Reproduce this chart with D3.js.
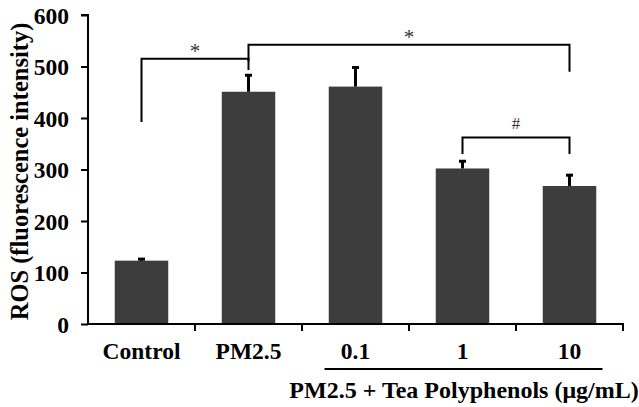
<!DOCTYPE html>
<html>
<head>
<meta charset="utf-8">
<script src="https://cdn.jsdelivr.net/npm/d3@7"></script>
<style>
  html, body { margin: 0; padding: 0; background: #fff; }
  svg { display: block; }
  svg text { font-family: "Liberation Serif", Tinos, "Times New Roman", Times, "DejaVu Serif", serif !important; }
</style>
</head>
<body>
<svg id="chart" width="639" height="407"></svg>
<script>
// ---- data ----
const categories = ["Control", "PM2.5", "0.1", "1", "10"];
const values = [123, 451, 461, 302, 268];
const errors = [3, 32, 37, 14, 21];
const yTicks = [0, 100, 200, 300, 400, 500, 600];
const yTitle = "ROS (fluorescence intensity)";
const groupLabel = "PM2.5 + Tea Polyphenols (μg/mL)";
// significance brackets: from category, to category, top value, left foot value, right foot value, mark
const brackets = [
  { from: "Control", to: "PM2.5", top: 515, footL: 392, footR: 510, mark: "*" },
  { from: "PM2.5", to: "10", top: 542, footL: 493, footR: 490, mark: "*" },
  { from: "1", to: "10", top: 362, footL: 330, footR: 330, mark: "#" }
];

// ---- layout ----
const FONT = '"Liberation Serif", Tinos, "Times New Roman", Times, "DejaVu Serif", serif';
const svg = d3.select("#chart").attr("font-family", FONT);
const margin = { left: 88, top: 15, right: 16, bottom: 83 };
const W = 639, H = 407;
const x0 = margin.left, x1 = W - margin.right;
const y0 = H - margin.bottom, y1 = margin.top;

const xBand = d3.scaleBand().domain(categories).range([x0, x1]).padding(0);
const y = d3.scaleLinear().domain([0, 600]).range([y0, y1]);
const cx = c => xBand(c) + xBand.bandwidth() / 2;

// bars
svg.append("g").selectAll("rect").data(categories).join("rect")
  .attr("x", (c) => cx(c) - xBand.bandwidth() / 4)
  .attr("width", xBand.bandwidth() / 2)
  .attr("y", (c, i) => y(values[i]))
  .attr("height", (c, i) => y(0) - y(values[i]))
  .attr("fill", "#3d3d3d");

// error bars
const eb = svg.append("g").attr("stroke", "#000");
categories.forEach((c, i) => {
  eb.append("line").attr("x1", cx(c)).attr("x2", cx(c))
    .attr("y1", y(values[i])).attr("y2", y(values[i] + errors[i]))
    .attr("stroke-width", 3);
  eb.append("line").attr("x1", cx(c) - 3.5).attr("x2", cx(c) + 3.5)
    .attr("y1", y(values[i] + errors[i])).attr("y2", y(values[i] + errors[i]))
    .attr("stroke-width", 3);
});

// y axis
const yAxis = d3.axisLeft(y).tickValues(yTicks).tickSize(7).tickPadding(12).tickFormat(d3.format("d"));
const gy = svg.append("g").attr("transform", `translate(${x0},0)`).call(yAxis).attr("font-family", FONT);
gy.select(".domain").attr("stroke-width", 2).attr("d", `M-7,${y1}H0V${y0}`);
gy.selectAll(".tick line").attr("stroke-width", 2);
gy.selectAll(".tick text").attr("font-size", 23.5).attr("font-weight", "bold")
  .attr("fill", "#000").attr("dy", "0.34em");

// x axis (ticks at category boundaries)
const boundaries = categories.map(c => xBand(c)).concat([x1]);
const gx = svg.append("g");
gx.append("line").attr("x1", x0).attr("x2", x1 + 1).attr("y1", y0).attr("y2", y0)
  .attr("stroke", "#000").attr("stroke-width", 2);
gx.selectAll("line.t").data(boundaries.slice(1)).join("line").attr("class", "t")
  .attr("x1", d => d).attr("x2", d => d).attr("y1", y0).attr("y2", y0 + 7)
  .attr("stroke", "#000").attr("stroke-width", 2);
gx.selectAll("text").data(categories).join("text")
  .attr("x", c => cx(c)).attr("y", y0 + 35)
  .attr("text-anchor", "middle").attr("font-size", 23.5).attr("font-weight", "bold")
  .text(c => c);

// group line and label
const gStart = cx("0.1") - 31, gEnd = cx("10") + 33;
svg.append("line").attr("x1", gStart).attr("x2", gEnd).attr("y1", y0 + 45).attr("y2", y0 + 45)
  .attr("stroke", "#000").attr("stroke-width", 2);
svg.append("text").attr("x", 464).attr("y", y0 + 74).attr("text-anchor", "middle")
  .attr("font-size", 24).attr("font-weight", "bold").text(groupLabel);

// y title
svg.append("text").attr("transform", `translate(28,171.5) rotate(-90)`)
  .attr("text-anchor", "middle").attr("font-size", 24.5).attr("font-weight", "bold").text(yTitle);

// brackets
const gb = svg.append("g");
brackets.forEach(b => {
  const xa = cx(b.from), xb = cx(b.to);
  gb.append("path")
    .attr("d", `M${xa},${y(b.footL)}V${y(b.top)}H${xb}V${y(b.footR)}`)
    .attr("fill", "none").attr("stroke", "#000").attr("stroke-width", 2);
  gb.append("text").attr("x", (xa + xb) / 2)
    .attr("y", y(b.top) + (b.mark === "*" ? -1 : -9))
    .attr("text-anchor", "middle").attr("font-size", b.mark === "*" ? 21 : 17)
    .attr("fill", "#333").text(b.mark);
});
</script>
</body>
</html>
